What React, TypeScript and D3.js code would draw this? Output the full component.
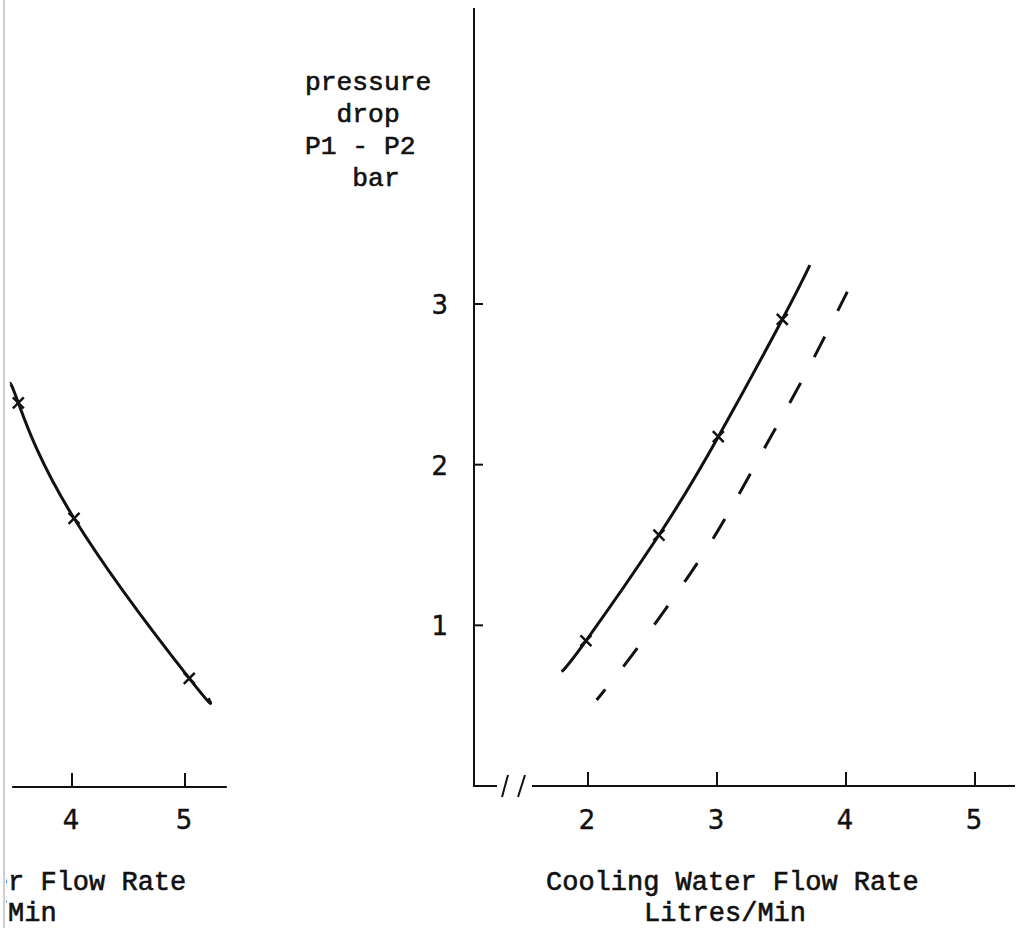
import React from 'react';
import * as d3 from 'd3';

// right panel: pressure drop vs cooling water flow
const solidFlow = [1.796, 1.984, 2.55, 3.01, 3.506, 3.72];
const solidDrop = [0.711, 0.904, 1.562, 2.174, 2.904, 3.242];
const markFlow = [1.984, 2.55, 3.01, 3.506];
const markDrop = [0.904, 1.562, 2.174, 2.904];

const dashFlow = [2.067, 2.385, 2.773, 3.067, 3.393, 3.688, 4.01];
const dashDrop = [0.535, 0.861, 1.299, 1.67, 2.139, 2.568, 3.076];

// left panel (cut off by page edge)
const leftFlow = [3.451, 3.525, 4.018, 5.038, 5.206];
const leftDrop = [2.506, 2.385, 1.666, 0.67, 0.546];
const leftMarkFlow = [3.525, 4.018, 5.038];
const leftMarkDrop = [2.385, 1.666, 0.67];

const rightXTicks = [2, 3, 4, 5];
const leftXTicks = [4, 5];
const yTicks = [1, 2, 3];

const xTitle = ['Cooling Water Flow Rate', 'Litres/Min'];
const yTitle = ['pressure', '  drop', 'P1 - P2', '   bar'];

const W = 1024;
const H = 928;
const ink = '#111';
const mono = '"Liberation Mono", "Courier New", monospace';
const sans = '"DejaVu Sans", sans-serif';

export default function App() {
  const x = d3.scaleLinear().domain([2, 5]).range([588, 975]);
  const y = d3.scaleLinear().domain([0, 3]).range([786, 304]);
  const xl = d3.scaleLinear().domain([4, 5]).range([72, 185]);

  const axisX = 474; // right y-axis position

  const solidPath = d3.line<number>().curve(d3.curveNatural)
    .x((d) => x(d)).y((_, i) => y(solidDrop[i]))(solidFlow);
  const dashPath = d3.line<number>().curve(d3.curveNatural)
    .x((d) => x(d)).y((_, i) => y(dashDrop[i]))(dashFlow);
  const leftPath = d3.line<number>().curve(d3.curveNatural)
    .x((d) => xl(d)).y((_, i) => y(leftDrop[i]))(leftFlow);

  const cross = d3.symbol(d3.symbolX, 80)() as string;
  const pitch = 27 * 0.6;
  const textInk = { fill: ink, stroke: ink, strokeWidth: 0.6 };

  return (
    <svg width={W} height={H} style={{ position: 'absolute', left: 0, top: 0, background: '#fff' }}>
      <defs>
        <clipPath id="page">
          <rect x={6} y={0} width={W} height={H} />
        </clipPath>
      </defs>
      {/* scan edge */}
      <line x1={4} y1={0} x2={4} y2={H} stroke="#cfcfcf" strokeWidth={2} />

      {/* left panel */}
      <g clipPath="url(#page)">
        <line x1={xl(3.47)} y1={787} x2={xl(5.37)} y2={787} stroke={ink} strokeWidth={2} />
        {leftXTicks.map((t) => (
          <g key={t}>
            <line x1={xl(t)} x2={xl(t)} y1={787} y2={773} stroke={ink} strokeWidth={2} />
            <text x={xl(t) - 1} y={829} fontFamily={sans} fontSize={26} textAnchor="middle" {...textInk} strokeWidth={0.4}>{t}</text>
          </g>
        ))}
        <path d={leftPath || ''} fill="none" stroke={ink} strokeWidth={3} />
        {leftMarkFlow.map((f, i) => (
          <path key={i} d={cross} transform={`translate(${xl(f)},${y(leftMarkDrop[i])})`} fill="none" stroke={ink} strokeWidth={2.5} />
        ))}
        {xTitle.map((s, i) => (
          <text key={i} x={(i === 0 ? 12 - 12 * pitch : 12 - 7 * pitch) - 4} y={890 + i * 31} fontFamily={mono} fontSize={27} {...textInk}>{s}</text>
        ))}
      </g>

      {/* right panel axes */}
      <line x1={axisX} y1={8} x2={axisX} y2={786} stroke={ink} strokeWidth={2} />
      <line x1={axisX - 1} y1={786} x2={497} y2={786} stroke={ink} strokeWidth={2} />
      <line x1={502} y1={797} x2={508} y2={775} stroke={ink} strokeWidth={2} />
      <line x1={518} y1={797} x2={525} y2={775} stroke={ink} strokeWidth={2} />
      <line x1={532} y1={786} x2={1015} y2={786} stroke={ink} strokeWidth={2} />
      {rightXTicks.map((t) => (
        <g key={t}>
          <line x1={x(t)} x2={x(t)} y1={786} y2={772} stroke={ink} strokeWidth={2} />
          <text x={x(t) - 1} y={829} fontFamily={sans} fontSize={26} textAnchor="middle" {...textInk} strokeWidth={0.4}>{t}</text>
        </g>
      ))}
      {yTicks.map((t) => (
        <g key={t}>
          <line x1={axisX} x2={axisX + 9} y1={y(t)} y2={y(t)} stroke={ink} strokeWidth={2} />
          <text x={448} y={y(t) + 10} fontFamily={sans} fontSize={26} textAnchor="end" {...textInk} strokeWidth={0.4}>{t}</text>
        </g>
      ))}

      {yTitle.map((s, i) => (
        <text key={i} x={305} y={90 + i * 32} fontFamily={mono} fontSize={26.3} {...textInk}
          xmlSpace="preserve" style={{ whiteSpace: 'pre' }}>{s}</text>
      ))}

      {xTitle.map((s, i) => (
        <text key={i} x={i === 0 ? 546 : 644} y={890 + i * 31} fontFamily={mono} fontSize={27} {...textInk}>{s}</text>
      ))}

      {/* curves */}
      <path d={solidPath || ''} fill="none" stroke={ink} strokeWidth={3} />
      <path d={dashPath || ''} fill="none" stroke={ink} strokeWidth={3} strokeDasharray="23 29" strokeDashoffset={9} />
      {markFlow.map((f, i) => (
        <path key={i} d={cross} transform={`translate(${x(f)},${y(markDrop[i])})`} fill="none" stroke={ink} strokeWidth={2.5} />
      ))}
    </svg>
  );
}
